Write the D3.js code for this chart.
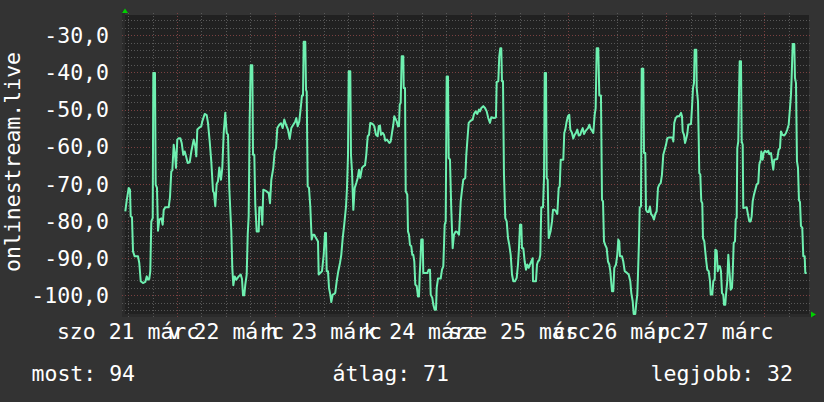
<!DOCTYPE html>
<html><head><meta charset="utf-8">
<script src="https://cdn.jsdelivr.net/npm/d3@7"></script>
<style>html,body{margin:0;padding:0;background:#333333;}svg{display:block}</style>
</head><body><svg id="c" width="824" height="402"></svg>
<script>
// hours since 2020-03-21 00:00 (local)
const hours = [11.32,11.66,12.15,12.47,12.64,12.96,13.21,13.62,14.43,14.75,15.10,15.66,16.22,16.57,16.89,17.20,17.45,17.70,18.04,18.19,18.60,18.77,19.09,19.34,19.66,20.15,20.49,20.74,21.13,21.96,22.28,22.60,22.85,23.19,23.51,23.75,24.07,24.42,24.81,25.15,25.54,25.89,26.21,26.62,27.11,27.51,28.09,28.49,28.73,28.98,29.57,29.96,30.20,30.79,31.28,31.60,32.02,32.41,32.83,33.07,33.39,33.73,34.05,34.37,34.79,35.11,35.45,35.84,36.19,36.51,36.82,37.32,37.56,37.81,38.15,38.54,39.13,39.62,39.94,40.19,40.50,40.75,41.09,41.34,41.58,41.83,42.07,42.47,42.64,42.96,43.20,43.54,
44.04,44.18,44.67,44.92,45.16,45.83,46.49,46.81,47.13,47.62,47.96,48.28,48.60,49.09,49.50,49.92,50.31,50.73,51.22,51.64,52.03,52.52,53.01,53.26,53.60,53.99,54.34,54.65,54.90,55.07,55.46,55.64,55.81,56.05,56.37,56.69,57.03,57.35,57.67,58.09,58.58,58.75,59.14,59.56,59.98,60.30,60.54,60.71,61.03,61.28,61.60,61.84,62.18,62.58,62.82,63.17,63.56,63.97,64.29,64.64,65.03,65.45,65.69,65.94,66.11,66.50,66.67,66.92,67.24,67.58,67.97,68.32,68.63,68.95,69.37,69.69,70.11,70.42,70.77,71.09,71.40,71.99,72.39,72.80,73.22,73.47,73.78,74.03,74.45,74.77,75.08,75.50,75.82,76.07,76.41,76.73,77.05,77.29,
77.88,78.20,78.44,78.62,78.86,79.11,79.50,79.60,79.92,80.09,80.48,80.65,80.90,81.14,81.46,81.71,81.95,82.20,82.44,82.79,83.10,83.35,83.52,83.77,83.91,84.26,84.40,85.38,85.73,86.05,86.22,86.61,86.86,87.20,87.52,87.69,88.01,88.67,88.99,89.31,89.65,89.90,90.14,90.46,90.63,90.95,91.27,91.61,91.93,92.35,92.74,93.16,93.58,93.90,94.21,94.70,94.95,95.19,95.54,96.03,96.52,96.84,97.26,97.65,98.06,98.31,98.63,99.12,99.54,99.95,100.34,100.76,101.08,101.74,102.23,102.40,102.80,103.04,103.29,103.53,103.70,103.95,104.19,104.51,104.86,105.18,105.49,105.84,106.16,106.48,106.89,107.31,107.63,107.87,108.12,108.44,108.61,108.93,109.27,109.59,109.91,110.25,110.57,110.89,111.23,
111.31,112.04,112.29,112.53,112.85,113.10,113.34,113.76,114.01,114.18,114.50,114.67,114.91,115.16,115.40,115.65,115.97,116.21,116.63,116.95,117.27,117.61,117.86,118.10,118.74,118.98,119.23,119.57,119.89,120.21,120.46,120.87,121.19,121.53,121.85,122.17,122.52,122.91,123.15,123.50,123.82,124.13,124.48,124.80,125.12,125.46,125.78,126.10,126.44,126.68,126.93,127.32,127.57,127.98,128.23,128.48,128.72,129.04,129.38,129.70,130.02,130.27,130.68,131.00,131.25,131.66,131.98,132.23,132.47,132.64,133.13,133.45,133.80,134.29,134.78,135.17,135.42,135.76,136.00,136.40,136.64,136.89,137.06,137.30,137.48,137.79,137.97,138.36,138.53,138.85,139.02,139.34,139.68,140.00,140.25,140.66,140.98,141.30,141.64,141.96,142.28,142.63,142.94,143.26,143.61,143.93,144.24,144.73,
145.57,145.72,145.96,146.30,146.70,147.19,147.60,147.85,148.02,148.34,148.59,148.83,149.15,149.39,150.06,150.30,150.55,150.79,150.96,151.36,151.46,151.77,151.95,152.09,152.34,152.58,152.83,153.00,153.32,153.56,153.81,154.05,154.40,154.72,154.89,155.28,155.53,155.87,156.02,156.36,156.61,156.85,157.17,157.41,157.66,157.98,158.15,158.47,158.64,158.96,159.21,159.55,159.79,160.11,160.28,160.53,160.85,161.02,161.27,161.41,161.66,161.83,162.00,162.32,162.49,162.74,162.88,163.72,164.04,164.36,164.70,164.94,165.19,165.51,165.83,166.17,166.56,166.81,167.15,167.30,167.64,167.89,168.21,168.62,169.02,169.26,169.68,170.00,170.24,170.49,171.22,171.57,171.88,172.13,172.45,172.94,173.36,173.67,174.02,174.34,174.58,174.75,175.00,175.39,175.56,175.81,176.05,176.30,176.54,176.79,177.03,177.35,177.60,177.94,178.09,178.43];
const rank = [-77.4,-74.5,-71.1,-71.6,-78.7,-79.0,-88.2,-89.5,-89.5,-91.3,-96.2,-96.7,-96.4,-94.9,-95.8,-95.6,-93.5,-80.1,-79.2,-40.2,-40.2,-70.2,-71.1,-82.6,-79.6,-79.3,-81.0,-77.0,-76.3,-76.3,-73.6,-66.6,-66.4,-59.5,-62.2,-65.7,-58.1,-57.7,-57.7,-59.0,-62.2,-61.3,-62.6,-64.4,-64.2,-61.3,-58.1,-59.9,-62.6,-55.4,-54.8,-54.5,-53.2,-51.2,-51.5,-53.6,-58.6,-64.0,-72.0,-72.4,-76.0,-70.0,-69.3,-65.6,-68.9,-65.7,-56.3,-50.9,-56.3,-56.8,-71.1,-82.8,-92.6,-97.3,-94.9,-95.8,-94.9,-94.4,-95.6,-100.0,-100.0,-97.1,-94.4,-83.7,-78.7,-52.3,-38.1,-38.1,-62.2,-62.2,-75.6,-82.8,
-82.8,-76.3,-76.3,-81.0,-71.6,-71.9,-72.5,-75.2,-68.9,-65.7,-61.3,-60.4,-55.0,-54.1,-53.7,-55.0,-52.7,-54.1,-55.4,-57.9,-55.0,-54.1,-53.2,-52.3,-54.5,-53.2,-49.6,-46.2,-46.2,-31.8,-31.8,-44.7,-45.2,-70.7,-71.1,-76.1,-85.0,-83.7,-83.7,-84.6,-85.5,-94.4,-94.0,-93.5,-89.1,-83.2,-83.2,-93.5,-93.5,-98.0,-99.8,-101.8,-99.8,-99.6,-99.3,-96.2,-93.5,-91.3,-89.1,-84.6,-80.8,-76.1,-71.1,-62.2,-39.7,-39.7,-62.2,-66.6,-77.0,-71.1,-69.8,-68.4,-66.2,-68.4,-65.7,-65.3,-65.0,-62.2,-57.2,-56.8,-53.6,-53.9,-54.5,-56.8,-57.2,-54.5,-54.3,-56.8,-56.3,-56.8,-58.4,-58.1,-58.6,-59.0,-58.6,-56.3,-54.1,-51.8,
-53.2,-54.5,-54.5,-48.7,-48.2,-35.7,-35.7,-44.2,-44.2,-72.0,-72.9,-82.8,-83.7,-86.4,-86.8,-89.1,-89.1,-90.9,-97.1,-97.5,-100.3,-100.3,-94.4,-89.1,-85.0,-85.0,-94.0,-94.0,-93.1,-93.1,-99.8,-100.7,-102.5,-103.9,-103.9,-98.0,-95.5,-95.5,-93.1,-92.2,-81.0,-80.1,-41.1,-41.1,-63.0,-63.5,-77.0,-87.3,-83.7,-82.8,-83.0,-83.7,-74.7,-71.6,-68.9,-68.4,-62.2,-58.6,-53.6,-53.0,-52.7,-51.2,-50.5,-51.2,-50.0,-50.5,-49.6,-49.1,-49.6,-50.5,-52.3,-53.6,-52.1,-52.3,-52.1,-42.6,-42.4,-35.7,-33.5,-33.5,-42.4,-42.4,-67.5,-79.2,-80.1,-84.6,-86.4,-89.1,-94.4,-96.2,-96.2,-95.3,-91.7,-87.3,-81.0,-81.0,-87.3,-87.3,-90.9,-93.1,-91.7,-92.6,-91.7,-90.9,-90.0,
-96.2,-96.2,-91.7,-90.9,-90.5,-89.1,-76.3,-76.3,-68.4,-40.2,-40.2,-68.4,-68.9,-84.6,-83.7,-82.6,-80.1,-77.0,-77.0,-77.4,-78.1,-71.1,-70.7,-63.5,-63.5,-56.3,-55.4,-53.2,-51.8,-51.4,-55.4,-56.3,-57.8,-56.8,-56.3,-55.4,-57.0,-56.8,-55.9,-55.0,-56.6,-55.9,-55.4,-55.0,-54.1,-55.2,-55.7,-56.3,-51.4,-49.6,-33.5,-33.5,-46.2,-46.2,-74.3,-74.7,-85.5,-86.5,-87.3,-90.9,-91.7,-93.5,-98.9,-98.9,-92.6,-91.7,-89.1,-85.0,-85.5,-89.5,-89.5,-90.9,-93.5,-93.9,-94.4,-96.2,-99.4,-101.6,-105.0,-105.0,-102.1,-99.8,-94.4,-85.5,-76.3,-76.1,-39.0,-39.0,-61.7,-61.7,-77.0,-77.6,-77.6,-76.1,-78.1,-78.7,-79.6,-78.1,-77.4,-71.1,-70.2,-69.8,-67.5,-62.2,-60.8,-59.5,-57.7,-57.5,
-57.5,-58.6,-53.6,-52.3,-51.8,-51.8,-50.9,-51.8,-55.9,-56.8,-59.0,-58.1,-56.6,-54.1,-53.9,-49.6,-44.2,-42.9,-33.9,-33.9,-44.2,-47.8,-57.7,-67.1,-67.5,-74.7,-75.2,-84.6,-85.5,-88.2,-90.9,-93.1,-93.5,-96.2,-99.8,-99.8,-96.2,-95.7,-87.7,-88.0,-93.5,-92.2,-92.2,-93.5,-99.4,-99.8,-102.5,-102.5,-99.8,-96.2,-89.1,-94.4,-98.5,-98.0,-94.4,-85.9,-85.5,-79.6,-79.1,-60.4,-58.6,-46.0,-37.0,-37.0,-58.6,-59.5,-76.5,-76.3,-78.3,-80.1,-80.1,-78.7,-74.7,-72.9,-71.6,-70.2,-69.8,-64.8,-63.5,-61.3,-63.5,-61.7,-61.1,-61.5,-61.1,-62.0,-61.7,-64.4,-66.2,-63.5,-63.3,-60.8,-60.4,-55.9,-56.8,-57.0,-56.3,-55.4,-54.1,-49.6,-46.0,-41.1,-32.4,-32.4,-41.5,-42.9,-63.9,-65.7,-74.4,-74.9,-81.4,-81.8,-89.5,-89.5,-94.0,-94.0];

const dayLabels = ["szo 21 márc","v 22 márc","h 23 márc","k 24 márc","sze 25 márc","cs 26 márc","p 27 márc"];
const dayNoons = [12,36,60,84,108,132,156];
const yMajor = [-100,-90,-80,-70,-60,-50,-40,-30];
const legendNames = ["most","átlag","legjobb"];
const legendValues = [94,71,32];
const axisTitle = "onlinestream.live";

const svg = d3.select("#c");
const FONT = "'DejaVu Sans Mono', monospace";
const FS = 21.5;
const L = 124, R = 809, T = 15, B = 315;

svg.append("rect").attr("width",824).attr("height",402).attr("fill","#333333");

const x = d3.scaleLinear().domain([11,179]).range([L,R]);
const y = d3.scaleLinear().domain([-105.29,-24.57]).range([B,T]);

// plot background
svg.append("rect").attr("x",L).attr("y",T).attr("width",R-L).attr("height",B-T).attr("fill","#212121");
// axis frame strips
svg.append("rect").attr("x",L-2).attr("y",T-4).attr("width",3).attr("height",B-T+6).attr("fill","#2b2b2b");
svg.append("rect").attr("x",L-2).attr("y",B-1).attr("width",R-L+8).attr("height",3).attr("fill","#2b2b2b");

const g = svg.append("g");
// horizontal minor grid
const hMinor = d3.range(-104,-25,2).filter(v => v % 10 !== 0);
g.selectAll("line.hm").data(hMinor).join("line")
  .attr("x1",L-2).attr("x2",R+2).attr("y1",d=>Math.round(y(d))+0.5).attr("y2",d=>Math.round(y(d))+0.5)
  .attr("stroke","#585858").attr("stroke-width",1).attr("stroke-dasharray","1,2");
// vertical minor grid
const vMinor = d3.range(12,179,6).filter(h => h % 24 !== 0);
g.selectAll("line.vm").data(vMinor).join("line")
  .attr("y1",T-2).attr("y2",B+3).attr("x1",d=>Math.round(x(d))+0.5).attr("x2",d=>Math.round(x(d))+0.5)
  .attr("stroke","#585858").attr("stroke-width",1).attr("stroke-dasharray","1,2");
// major grid
g.selectAll("line.hM").data(yMajor).join("line")
  .attr("x1",L-2).attr("x2",R+2).attr("y1",d=>Math.round(y(d))+0.5).attr("y2",d=>Math.round(y(d))+0.5)
  .attr("stroke","#7a4141").attr("stroke-width",1).attr("stroke-dasharray","1,2");
const vMajor = d3.range(24,179,24);
g.selectAll("line.vM").data(vMajor).join("line")
  .attr("y1",T-2).attr("y2",B+3).attr("x1",d=>Math.round(x(d))+0.5).attr("x2",d=>Math.round(x(d))+0.5)
  .attr("stroke","#7a4141").attr("stroke-width",1).attr("stroke-dasharray","1,2");

// data line
const pts = hours.map((h,i)=>[h,rank[i]]);
svg.append("path").datum(pts)
  .attr("d", d3.line().x(d=>x(d[0])).y(d=>y(d[1])))
  .attr("fill","none").attr("stroke","#6ef0b0").attr("stroke-width",2).attr("stroke-linejoin","round");

// arrows
svg.append("path").attr("d",`M${L-2},13 L${L+1},8.5 L${L+4},13 Z`).attr("fill","#00d000");
svg.append("path").attr("d",`M${R+2},311.5 L${R+7},314.5 L${R+2},317.5 Z`).attr("fill","#00d000");

// y labels
const fmt = v => d3.format(".1f")(v).replace(".",",").replace("−","-");
svg.selectAll("text.yl").data(yMajor).join("text")
  .attr("x",109).attr("y",d=>y(d)+7.8).attr("text-anchor","end")
  .attr("font-family",FONT).attr("font-size",FS).attr("fill","#ffffff").text(fmt);

// x labels
svg.selectAll("text.xl").data(dayLabels).join("text")
  .attr("x",(d,i)=>x(dayNoons[i])).attr("y",339).attr("text-anchor","middle")
  .attr("font-family",FONT).attr("font-size",FS).attr("fill","#ffffff").text(d=>d);

// axis title
svg.append("text").attr("transform","translate(19.5,162) rotate(-90)").attr("text-anchor","middle")
  .attr("font-family",FONT).attr("font-size",FS).attr("fill","#ffffff").text(axisTitle);

// legend
const legX = [31.5, 332.5, 793];
const legAnchor = ["start","start","end"];
svg.selectAll("text.lg").data(legendNames).join("text")
  .attr("x",(d,i)=>legX[i]).attr("y",381).attr("text-anchor",(d,i)=>legAnchor[i])
  .attr("font-family",FONT).attr("font-size",FS).attr("fill","#ffffff")
  .text((d,i)=>`${d}: ${legendValues[i]}`);
</script>
</body></html>
